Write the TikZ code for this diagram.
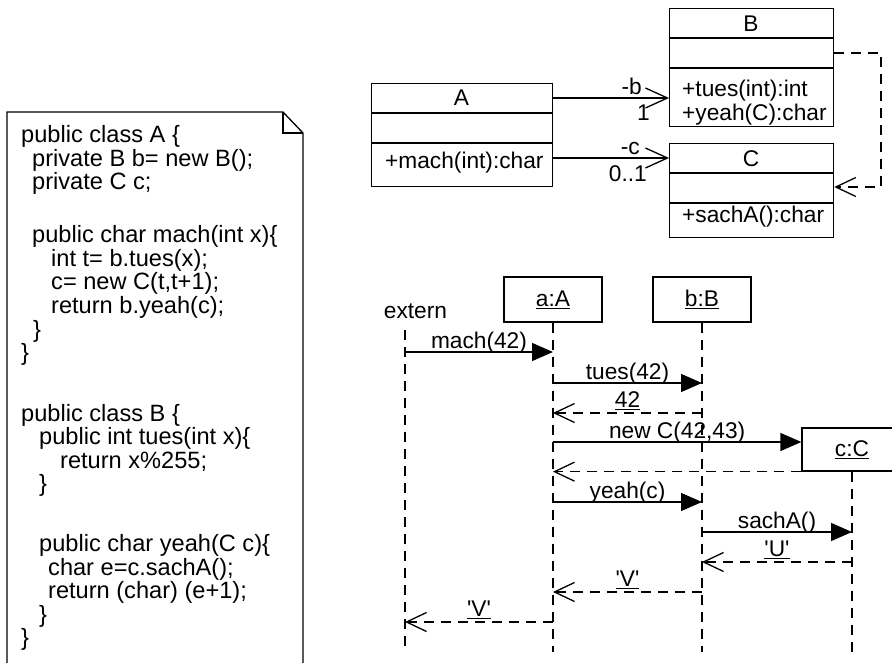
\documentclass[tikz,border=0pt]{standalone}
\usepackage{fontspec}
\setmainfont{Liberation Sans}
\usetikzlibrary{arrows.meta}
\newcommand{\sq}{\textquotesingle}
\begin{document}
\begin{tikzpicture}[x=1pt,y=-1pt,
  every node/.style={inner sep=0pt, font=\fontsize{22.7pt}{24pt}\selectfont},
  lw/.style={line width=1.3pt},
  code/.style={anchor=base west, font=\fontsize{23.6pt}{24pt}\selectfont},
  umlbox/.style={draw, line width=1.3pt, anchor=north west},
  lifebox/.style={draw, line width=1.3pt, minimum width=98pt, minimum height=45pt},
  dashpat/.style={dash pattern=on 10pt off 7pt},
  life/.style={line width=1.3pt, dashpat},
  call/.style={line width=1.3pt, -{Triangle[length=21pt,width=18pt]}},
  ret/.style={line width=1.3pt, dashpat, -{Straight Barb[length=20pt,width=19pt]}},
  assoc/.style={line width=1.3pt, -{Straight Barb[length=22pt,width=20pt]}},
  lbl/.style={midway, anchor=base, yshift=4pt},
  rlbl/.style={midway, anchor=base, yshift=5.5pt},
]
\useasboundingbox (0,0) rectangle (892,663);
\clip (0,0) rectangle (892,663);

% ---------- code note ----------
\draw[lw] (7,670) -- (7,112) -- (283,112) -- (303,133) -- (303,670);
\draw[lw] (283,112) -- (283,133) -- (303,133);
\node[code] (k1) at (21,143) {public class A \{};
\node[code] (k2) at (32,166.5) {private B b= new B();};
\node[code] (k3) at (32,190) {private C c;};
\node[code] (k4) at (32,243) {public char mach(int x)\{};
\node[code] (k5) at (51,266.5) {int t= b.tues(x);};
\node[code] (k6) at (51,290) {c= new C(t,t+1);};
\node[code] (k7) at (51,313.5) {return b.yeah(c);};
\node[code] (k8) at (33,337) {\}};
\node[code] (k9) at (21,360.5) {\}};
\node[code] (k10) at (21,421) {public class B \{};
\node[code] (k11) at (39,444.5) {public int tues(int x)\{};
\node[code] (k12) at (60,468) {return x\%255;};
\node[code] (k13) at (39,491.5) {\}};
\node[code] (k14) at (39,551.5) {public char yeah(C c)\{};
\node[code] (k15) at (48,575) {char e=c.sachA();};
\node[code] (k16) at (48,598.5) {return (char) (e+1);};
\node[code] (k17) at (39,622) {\}};
\node[code] (k18) at (21,645.5) {\}};

% ---------- class diagram ----------
\node[umlbox, minimum width=181pt, minimum height=103pt] (A) at (371,83) {};
\draw[lw] (371,113) -- (552,113) (371,143) -- (552,143);
\node (An) at (461.5,98) {A};
\node[anchor=base west] (Am) at (385,169) {+mach(int):char};

\node[umlbox, minimum width=164pt, minimum height=118pt] (B) at (669,8) {};
\draw[lw] (669,38) -- (833,38) (669,68) -- (833,68);
\node (Bn) at (751,24) {B};
\node[anchor=base west] (Bm1) at (682,97) {+tues(int):int};
\node[anchor=base west] (Bm2) at (682,121) {+yeah(C):char};

\node[umlbox, minimum width=164pt, minimum height=94pt] (C) at (669,143) {};
\draw[lw] (669,173) -- (833,173) (669,203) -- (833,203);
\node (Cn) at (751,159) {C};
\node[anchor=base west] (Cm) at (682,223) {+sachA():char};

\coordinate (yb) at (0,98);
\coordinate (yc) at (0,158);
\draw[assoc] (A.east |- yb) -- (B.west |- yb);
\draw[assoc] (A.east |- yc) -- (C.west |- yc);
\node[anchor=base east] (lb) at (642,95) {-b};
\node[anchor=base east] (lb1) at (650,121) {1};
\node[anchor=base east] (lc) at (640,155) {-c};
\node[anchor=base east] (lc1) at (647,182) {0..1};

\coordinate (d1) at (881,53);
\coordinate (d2) at (881,187);
\draw[ret] (B.east |- d1) -- (d1) -- (d2) -- (C.east |- d2);

% ---------- sequence diagram ----------
\node[lifebox] (a) at (553,299.5) {\underline{a:A}};
\node[lifebox] (b) at (702,299.5) {\underline{b:B}};
\node[lifebox, minimum width=100pt, minimum height=43pt] (c) at (852,449.5) {\underline{c:C}};
\node[anchor=base] (ext) at (415.5,318) {extern};
\coordinate (extl) at (405,330);
\coordinate (bot) at (0,652);

\draw[life] (extl) -- (extl |- bot);
\draw[life] (a.south) -- (a.south |- bot);
\draw[life] (b.south) -- (b.south |- bot);
\draw[life] (c.south) -- (c.south |- bot);

\coordinate (m1) at (0,352);
\coordinate (m2) at (0,383);
\coordinate (m3) at (0,413);
\coordinate (m4) at (0,442);
\coordinate (m6) at (0,502);
\coordinate (m7) at (0,532);
\coordinate (m8) at (0,562);
\coordinate (m9) at (0,592);
\coordinate (m10) at (0,622);

\draw[call] (extl |- m1) -- (a.south |- m1) node[lbl] (t1) {mach(42)};
\draw[call] (a.south |- m2) -- (b.south |- m2) node[lbl] (t2) {tues(42)};
\draw[ret] (b.south |- m3) -- (a.south |- m3) node[rlbl] (t3) {\underline{42}};
\draw[call] (a.south |- m4) -- (c.west |- m4) node[lbl] (t4) {new C(42,43)};
\draw[ret] (c.south west) -- (a.south |- c.south west);
\draw[call] (a.south |- m6) -- (b.south |- m6) node[lbl] (t6) {yeah(c)};
\draw[call] (b.south |- m7) -- (c.south |- m7) node[lbl] (t7) {sachA()};
\draw[ret] (c.south |- m8) -- (b.south |- m8) node[rlbl] (t8) {\underline{\sq U\sq}};
\draw[ret] (b.south |- m9) -- (a.south |- m9) node[rlbl] (t9) {\underline{\sq V\sq}};
\draw[ret] (a.south |- m10) -- (extl |- m10) node[rlbl] (t10) {\underline{\sq V\sq}};
\end{tikzpicture}
\end{document}
